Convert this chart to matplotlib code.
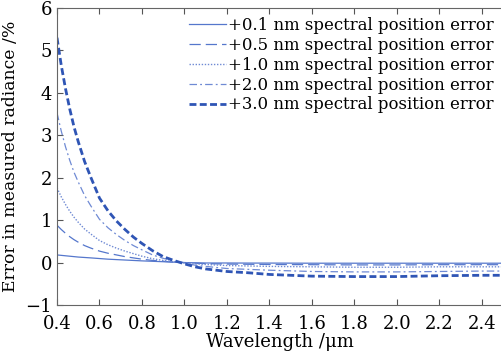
import numpy as np
import matplotlib
matplotlib.use("Agg")
import matplotlib.pyplot as plt

# wavelength grid (um) and error curves (%)
wl = [0.40, 0.42, 0.44, 0.46, 0.48, 0.50, 0.53, 0.56, 0.60, 0.64, 0.68, 0.72, 0.76,
      0.80, 0.85, 0.90, 0.95, 1.00, 1.05, 1.10, 1.20, 1.30, 1.40, 1.60, 1.80, 2.00,
      2.20, 2.40, 2.50]
err_01 = [0.18, 0.17, 0.16, 0.15, 0.14, 0.13, 0.12, 0.11, 0.095, 0.08, 0.07, 0.06, 0.05,
          0.04, 0.03, 0.02, 0.01, 0.0, -0.005, -0.01, -0.01, -0.012, -0.012, -0.015,
          -0.015, -0.015, -0.015, -0.015, -0.015]
err_05 = [0.88, 0.78, 0.69, 0.61, 0.54, 0.48, 0.40, 0.34, 0.27, 0.22, 0.18, 0.14, 0.11,
          0.08, 0.05, 0.03, 0.01, 0.0, -0.015, -0.025, -0.035, -0.04, -0.045, -0.05,
          -0.055, -0.055, -0.05, -0.05, -0.05]
err_10 = [1.76, 1.55, 1.37, 1.21, 1.07, 0.95, 0.79, 0.67, 0.52, 0.42, 0.34, 0.27, 0.21,
          0.15, 0.09, 0.05, 0.02, -0.01, -0.03, -0.045, -0.07, -0.08, -0.09, -0.10,
          -0.11, -0.11, -0.10, -0.10, -0.10]
err_20 = [3.53, 3.10, 2.73, 2.41, 2.13, 1.90, 1.58, 1.33, 1.02, 0.82, 0.66, 0.52, 0.40,
          0.30, 0.18, 0.10, 0.035, -0.02, -0.06, -0.09, -0.14, -0.16, -0.18, -0.21,
          -0.22, -0.22, -0.21, -0.20, -0.20]
err_30 = [5.30, 4.65, 4.10, 3.62, 3.20, 2.85, 2.38, 2.00, 1.52, 1.22, 0.98, 0.78, 0.60,
          0.45, 0.28, 0.14, 0.05, -0.03, -0.10, -0.15, -0.21, -0.24, -0.28, -0.32,
          -0.33, -0.33, -0.31, -0.30, -0.30]
labels = ["+0.1 nm spectral position error", "+0.5 nm spectral position error",
          "+1.0 nm spectral position error", "+2.0 nm spectral position error",
          "+3.0 nm spectral position error"]

plt.rcParams["font.family"] = ["DejaVu Serif"]
plt.rcParams["mathtext.fontset"] = "dejavuserif"

fig = plt.figure(figsize=(5.02, 3.58), dpi=100)
ax = fig.add_axes([57 / 502, 53 / 358, 1 - 57 / 502 + 0.002, 297 / 358])

ax.plot(wl, err_01, color="#5577cc", lw=0.9, ls="-", label=labels[0])
ax.plot(wl, err_05, color="#5577cc", lw=0.9, ls=(0, (9, 4)), label=labels[1])
ax.plot(wl, err_10, color="#6f8ad4", lw=1.0, ls=(0, (1, 1.2)), label=labels[2])
ax.plot(wl, err_20, color="#6f8ad4", lw=0.9, ls=(0, (6, 2.5, 1.5, 2.5)), label=labels[3])
ax.plot(wl, err_30, color="#2f55b5", lw=2.0, ls=(0, (2.5, 1.2)), label=labels[4])

ax.set_xlim(0.4, 2.5)
ax.set_ylim(-1, 6)
ax.set_xticks(np.arange(0.4, 2.41, 0.2))
ax.set_xticklabels(["%.1f" % v for v in np.arange(0.4, 2.41, 0.2)])
ax.set_yticks(range(-1, 7))
ax.tick_params(direction="in", length=4, labelsize=13, colors="#555555",
               labelcolor="black", top=True, right=False)
ax.tick_params(axis="x", pad=7)
for s in ax.spines.values():
    s.set_color("#666666")
ax.spines["right"].set_visible(False)

ax.set_xlabel("Wavelength /μm", fontsize=13, labelpad=0)
ax.set_ylabel("Error in measured radiance /%", fontsize=12.4, labelpad=3)
ax.yaxis.set_label_coords(-0.085, 0.5)

ax.legend(loc="upper right", fontsize=11.9, frameon=False, handlelength=2.2,
          handletextpad=0.15, labelspacing=0.17, borderaxespad=0.25,
          borderpad=0.3)

fig.savefig("out.png", dpi=100)
